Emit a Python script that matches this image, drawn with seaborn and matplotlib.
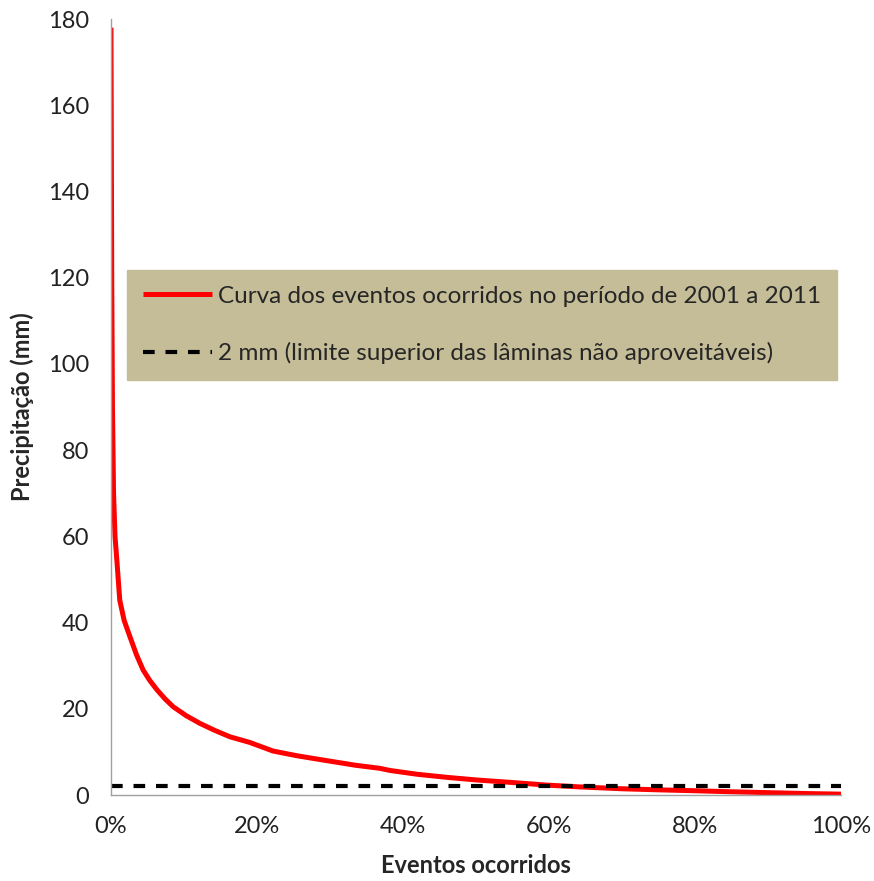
import matplotlib
matplotlib.use("Agg")
import matplotlib.pyplot as plt
import seaborn as sns
import pandas as pd
from matplotlib.ticker import FuncFormatter

# Data
eventos_pct = [0.0, 0.1, 0.2, 0.35, 0.55, 0.8, 1.2, 1.8, 2.6, 3.5, 4.4, 5.3, 6.3, 7.4,
               8.5, 10.3, 12.2, 14.2, 16.3, 19.0, 22.2, 25.5, 29.1, 33.5, 36.8, 38.2,
               42.0, 46.0, 50.0, 55.0, 59.7, 64.0, 70.0, 75.0, 79.8, 85.0, 90.0, 95.0, 100.0]
precip_mm = [178.0, 120.0, 90.0, 70.0, 60.0, 54.5, 45.2, 40.5, 36.7, 32.5, 29.0, 26.6, 24.4, 22.3,
             20.5, 18.4, 16.6, 15.0, 13.5, 12.2, 10.2, 9.1, 8.1, 6.9, 6.2, 5.7,
             4.8, 4.1, 3.5, 2.9, 2.3, 1.9, 1.45, 1.2, 1.0, 0.75, 0.55, 0.35, 0.2]
limite_mm = 2.0
y_ticks = [0, 20, 40, 60, 80, 100, 120, 140, 160, 180]
x_ticks = [0, 20, 40, 60, 80, 100]

label_curve = "Curva dos eventos ocorridos no período de 2001 a 2011"
label_limit = "2 mm (limite superior das lâminas não aproveitáveis)"

sns.set_style("white")
plt.rcParams["font.family"] = ["Lato", "DejaVu Sans"]

fig = plt.figure(figsize=(8.74, 8.81), dpi=100)
ax = fig.add_axes([0.127, 0.0976, 0.8352, 0.8808])

df = pd.DataFrame({"x": eventos_pct, "y": precip_mm})
sns.lineplot(data=df, x="x", y="y", ax=ax, color="#FF0000", linewidth=3.6,
             label=label_curve, solid_capstyle="butt")
df2 = pd.DataFrame({"x": [x_ticks[0], x_ticks[-1]], "y": [limite_mm, limite_mm]})
sns.lineplot(data=df2, x="x", y="y", ax=ax, color="black", linewidth=3.0,
             linestyle=(0, (2.8, 2.6)), label=label_limit)

ax.set_xlim(0, 100)
ax.set_ylim(0, 180)
ax.set_xticks(x_ticks)
ax.set_yticks(y_ticks)
ax.xaxis.set_major_formatter(FuncFormatter(lambda v, p: f"{int(v)}%"))
ax.tick_params(axis="both", labelsize=17, length=6, width=1,
               direction="out", color="#A0A0A0", labelcolor="#222222")
ax.tick_params(axis="x", pad=9)
ax.tick_params(axis="y", pad=10)
for s in ["top", "right"]:
    ax.spines[s].set_visible(False)
for s in ["left", "bottom"]:
    ax.spines[s].set_color("#A0A0A0")
    ax.spines[s].set_linewidth(1)

ax.set_xlabel("Eventos ocorridos", fontsize=17, fontweight="bold", labelpad=12)
ax.set_ylabel("Precipitação (mm)", fontsize=17, fontweight="bold", labelpad=10)

leg = ax.legend(loc="upper left", bbox_to_anchor=(0.022, 0.6765), fontsize=17.5,
                frameon=True, fancybox=False, facecolor="#C4BD97", edgecolor="#C4BD97",
                framealpha=1, handlelength=2.85, handletextpad=0.25, labelspacing=1.45,
                borderpad=0.65, borderaxespad=0)

fig.savefig("out.png", dpi=100, facecolor="white")
